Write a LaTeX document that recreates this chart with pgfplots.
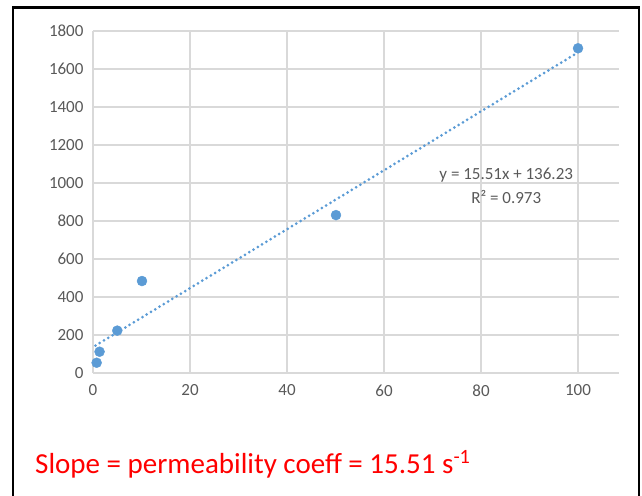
\documentclass[border=0pt]{standalone}
\usepackage{fontspec}
\setmainfont{Carlito}
\usepackage{pgfplots}
\pgfplotsset{compat=1.18}
\definecolor{xlblue}{HTML}{5B9BD5}
\definecolor{xlgrid}{HTML}{D9D9D9}
\definecolor{xltext}{HTML}{595959}
\begin{document}
\begin{tikzpicture}
\useasboundingbox (0pt,0pt) rectangle (642pt,495pt);
\begin{scope}
\clip (0pt,0pt) rectangle (642pt,495pt);
\draw[line width=2.5pt] (13pt,-5pt) -- (13pt,487.5pt) -- (639pt,487.5pt) -- (639pt,-5pt);
\end{scope}
\begin{axis}[
    at={(93pt,122pt)}, anchor=south west,
    scale only axis,
    width=526pt, height=342pt,
    xmin=0, xmax=108.45,
    ymin=0, ymax=1800,
    xtick={0,20,40,60,80,100},
    ytick={0,200,...,1800},
    grid=major,
    major grid style={xlgrid, line width=1.2pt},
    axis line style={draw=none},
    major tick length=0pt,
    ticklabel style={font=\fontsize{17}{20}\selectfont, text=xltext},
    /pgf/number format/assume math mode=true,
    /pgf/number format/set thousands separator={},
    yticklabel style={xshift=-6pt},
    xticklabel style={yshift=-8pt},
    clip=false,
]
\addplot[xlblue, line width=3pt, line cap=round, dash pattern=on 0pt off 5pt]
    coordinates {(0.5,143.99) (100,1687.23)};
\addplot[only marks, mark=*, mark size=5pt, color=xlblue]
    coordinates {(0.75,54) (1.35,112) (5,223) (10.1,484) (50.1,831) (100,1709)};
\node[text=xltext, font=\fontsize{17}{20}\selectfont] at (axis cs:85.2,1042) {y = 15.51x + 136.23};
\node[text=xltext, font=\fontsize{17}{20}\selectfont] at (axis cs:85.2,926) {R² = 0.973};
\end{axis}
\node[anchor=base west, text=red, font=\fontsize{29}{34}\selectfont, inner sep=0pt] at (35pt,22pt) {Slope = permeability coeff = 15.51 s\textsuperscript{-1}};
\end{tikzpicture}
\end{document}
